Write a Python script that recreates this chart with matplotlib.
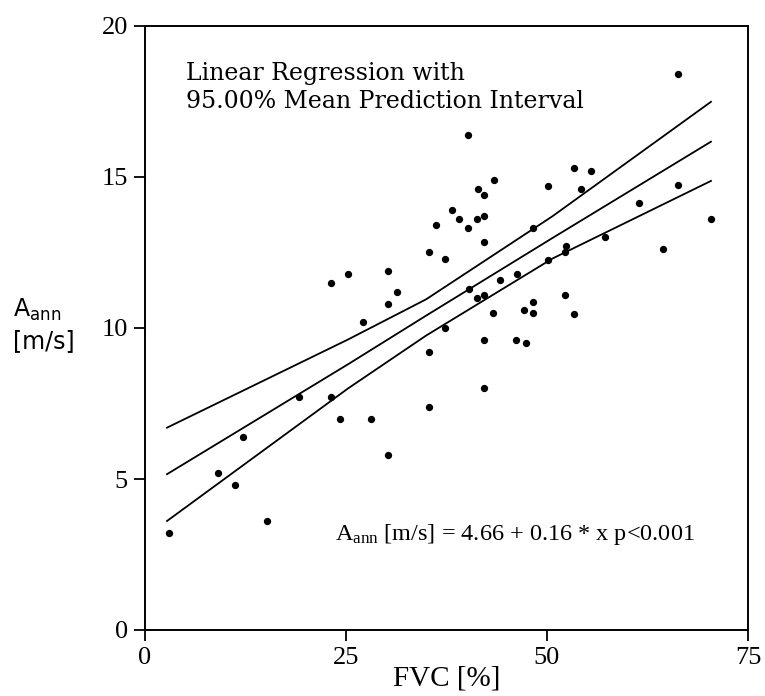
import numpy as np
import matplotlib
matplotlib.use('Agg')
import matplotlib.pyplot as plt

# FVC [%] vs A_ann [m/s]
fvc = [3.1, 9.1, 11.2, 15.2, 12.2, 19.2, 23.2, 24.3, 28.1, 30.2,
       35.3, 42.2, 35.3, 37.3, 42.2, 46.2, 47.4, 43.3, 47.2, 48.3,
       48.3, 27.1, 30.2, 31.4, 23.2, 25.3, 30.2, 35.3, 37.3, 36.2,
       38.2, 39.1, 40.2, 41.3, 42.2, 42.2, 40.3, 41.3, 42.2, 44.2,
       46.3, 40.2, 41.4, 42.2, 43.4, 48.3, 50.2, 50.2, 52.2, 52.4,
       52.3, 53.4, 53.4, 55.5, 54.3, 57.2, 61.5, 64.4, 66.3, 66.3,
       70.4]
aann = [3.2, 5.2, 4.8, 3.6, 6.4, 7.7, 7.7, 7.0, 7.0, 5.8,
        7.4, 8.0, 9.2, 10.0, 9.6, 9.6, 9.5, 10.5, 10.6, 10.5,
        10.85, 10.2, 10.8, 11.2, 11.5, 11.8, 11.9, 12.5, 12.3, 13.4,
        13.9, 13.6, 13.3, 13.6, 13.7, 12.85, 11.3, 11.0, 11.1, 11.6,
        11.8, 16.4, 14.6, 14.4, 14.9, 13.3, 14.7, 12.25, 12.5, 12.7,
        11.1, 10.45, 15.3, 15.2, 14.6, 13.0, 14.15, 12.6, 14.75, 18.4,
        13.6]

# regression line and 95% band, read at a few x positions
band_x = [2.8, 25.3, 35.0, 50.7, 70.4]
fit_y = [5.16, 8.80, 10.41, 12.98, 16.17]
upper_y = [6.70, 9.62, 10.95, 13.70, 17.49]
lower_y = [3.61, 8.00, 9.75, 12.30, 14.87]

plt.rcParams['mathtext.fontset'] = 'custom'
plt.rcParams['mathtext.rm'] = 'Liberation Serif'
plt.rcParams['mathtext.sf'] = 'DejaVu Sans'

fig = plt.figure(figsize=(7.65, 6.96), dpi=100)
ax = fig.add_axes([144.5/765, 1-630/696, (748-144.5)/765, (630-26)/696])

ax.scatter(fvc, aann, s=18, c='black', zorder=3)
ax.plot(band_x, fit_y, color='black', lw=1.3)
ax.plot(band_x, upper_y, color='black', lw=1.3)
ax.plot(band_x, lower_y, color='black', lw=1.3)

ax.set_xlim(0, 75)
ax.set_ylim(0, 20)
ax.set_xticks([0, 25, 50, 75])
ax.set_yticks([0, 5, 10, 15, 20])
ax.tick_params(direction='out', length=8, width=1.3, pad=4, labelsize=19)
for lab in ax.get_xticklabels() + ax.get_yticklabels():
    lab.set_family('Liberation Serif')
for sp in ax.spines.values():
    sp.set_linewidth(1.4)

ax.set_xlabel('FVC [%]', family='Liberation Serif', fontsize=21, labelpad=-2)

fig.text(13/765, 1-325/696, '$\\mathsf{A_{ann}}$\n[m/s]', family='DejaVu Sans',
         fontsize=17, ha='left', va='center', linespacing=1.35)

ax.text(5.1, 18.21, 'Linear Regression with', family='DejaVu Serif',
        fontsize=17, va='baseline')
ax.text(5.1, 17.28, '95.00% Mean Prediction Interval', family='DejaVu Serif',
        fontsize=17, va='baseline')
ax.text(23.7, 2.98, '$\\mathrm{A_{ann}}$ [m/s] = 4.66 + 0.16 * x p<0.001',
        family='Liberation Serif', fontsize=17.5, va='baseline')

plt.savefig('out.png', dpi=100)
